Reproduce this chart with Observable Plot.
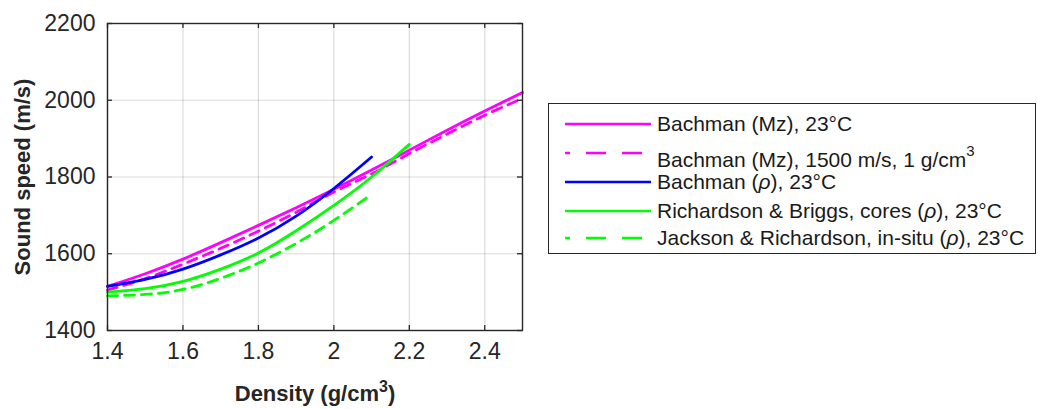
<!DOCTYPE html>
<html><head><meta charset="utf-8">
<script src="https://cdn.jsdelivr.net/npm/d3@7"></script>
<script src="https://cdn.jsdelivr.net/npm/@observablehq/plot@0.6"></script>
<style>
body{margin:0;background:#fff;font-family:"Liberation Sans",Arial,sans-serif;}
#wrap{position:relative;width:1038px;height:409px;overflow:hidden;}
#legend{position:absolute;left:548px;top:103px;width:488px;height:151px;border:1.3px solid #262626;box-sizing:border-box;background:#fff;}
.row{position:absolute;left:0;height:28px;width:480px;}
.row svg{position:absolute;left:15px;top:0;}
.row span{position:absolute;left:108px;top:2px;font-size:21px;color:#1a1a1a;white-space:nowrap;line-height:24px;}
.row sup{font-size:15px;position:relative;top:-3px;}
</style>
</head><body>
<div id="wrap"><div id="chart"></div><div id="legend"></div></div>
<script>
// ---- data ----
const xTicks = [1.4, 1.6, 1.8, 2.0, 2.2, 2.4];
const yTicks = [1400, 1600, 1800, 2000, 2200];
const densityLong = [1.4, 1.5, 1.6, 1.7, 1.8, 1.9, 2.0, 2.1, 2.2, 2.3, 2.4, 2.5];
const densityMid = [1.4, 1.5, 1.6, 1.7, 1.8, 1.9, 2.0, 2.1, 2.2];
const densityShort = [1.4, 1.5, 1.6, 1.7, 1.8, 1.9, 2.0, 2.1];
const bachmanMz = [1515, 1548, 1586, 1629, 1674, 1720, 1768, 1818, 1870, 1922, 1972, 2020];
const bachmanMz1500 = [1505, 1535, 1573, 1614, 1659, 1708, 1761, 1808, 1861, 1912, 1961, 2005];
const bachmanRho = [1515, 1533, 1560, 1597, 1641, 1698, 1770, 1852];
const richardsonBriggs = [1500, 1509, 1528, 1560, 1602, 1660, 1726, 1800, 1885];
const jacksonRichardson = [1490, 1494, 1507, 1536, 1576, 1627, 1687, 1755];
const seriesNames = [
  "Bachman (Mz), 23°C",
  "Bachman (Mz), 1500 m/s, 1 g/cm3",
  "Bachman (ρ), 23°C",
  "Richardson & Briggs, cores (ρ), 23°C",
  "Jackson & Richardson, in-situ (ρ), 23°C"
];
const legendHTML = [
  "Bachman (Mz), 23°C",
  "Bachman (Mz), 1500 m/s, 1 g/cm<sup>3</sup>",
  "Bachman (<i>ρ</i>), 23°C",
  "Richardson &amp; Briggs, cores (<i>ρ</i>), 23°C",
  "Jackson &amp; Richardson, in-situ (<i>ρ</i>), 23°C"
];
const seriesX = [densityLong, densityLong, densityShort, densityMid, densityShort];
const seriesY = [bachmanMz, bachmanMz1500, bachmanRho, richardsonBriggs, jacksonRichardson];
const colors = ["#ff00ff", "#ff00ff", "#0000ff", "#00ff00", "#00ff00"];
const dashes = [null, "10,7", null, null, "10,7"];

// ---- chart ----
const W = 1038, H = 409;
const mL = 107, mR = 516, mT = 23, mB = 79;
const pw = W - mL - mR, ph = H - mT - mB;
const ink = "#262626";

const lineMarks = seriesY.map((ys, i) => Plot.line(
  ys.map((v, j) => ({x: seriesX[i][j], y: v})),
  {x: "x", y: "y", stroke: colors[i], strokeWidth: 2.8, strokeDasharray: dashes[i], curve: "natural"}
));

const chart = Plot.plot({
  width: W, height: H,
  marginLeft: mL, marginRight: mR, marginTop: mT, marginBottom: mB,
  style: {fontFamily: "'Liberation Sans', Arial, sans-serif", fontSize: "23px", background: "#fff"},
  x: {domain: [1.4, 2.5]},
  y: {domain: [1400, 2200]},
  marks: [
    Plot.gridX(xTicks, {stroke: "#000", strokeOpacity: 0.14, strokeWidth: 1.2}),
    Plot.gridY(yTicks, {stroke: "#000", strokeOpacity: 0.14, strokeWidth: 1.2}),
    ...lineMarks,
    Plot.tickX(xTicks, {x: d => d, insetTop: ph - 5, stroke: ink, strokeWidth: 1.3}),
    Plot.tickX(xTicks, {x: d => d, insetBottom: ph - 5, stroke: ink, strokeWidth: 1.3}),
    Plot.tickY(yTicks, {y: d => d, insetRight: pw - 5, stroke: ink, strokeWidth: 1.3}),
    Plot.tickY(yTicks, {y: d => d, insetLeft: pw - 5, stroke: ink, strokeWidth: 1.3}),
    Plot.frame({stroke: ink, strokeWidth: 1.4}),
    Plot.axisX(xTicks, {tickSize: 0, tickPadding: 12, fontSize: 23, fill: ink, tickFormat: d3.format("~g"), label: null}),
    Plot.axisY(yTicks, {tickSize: 0, tickPadding: 12, fontSize: 23, fill: ink, tickFormat: d => String(d), label: null}),
    Plot.text(["Sound speed (m/s)"], {frameAnchor: "left", dx: -85, rotate: -90, textAnchor: "middle", lineAnchor: "middle", fontSize: 22, fontWeight: "bold", fill: ink}),
    Plot.text(["Density (g/cm3)"], {frameAnchor: "bottom", dy: 63, textAnchor: "middle", lineAnchor: "middle", fontSize: 22, fontWeight: "bold", fill: ink})
  ]
});
document.getElementById("chart").appendChild(chart);

// superscript in x label
d3.select(chart).selectAll("text").filter(function(){ return this.textContent === "Density (g/cm3)"; })
  .each(function(){
    const t = d3.select(this);
    t.text(null);
    t.append("tspan").text("Density (g/cm");
    t.append("tspan").attr("dy", -9).attr("font-size", 16).text("3");
    t.append("tspan").attr("dy", 9).text(")");
  });

// ---- legend ----
const rowTops = [6, 36, 64, 93, 120];
const lg = document.getElementById("legend");
seriesNames.forEach((name, i) => {
  const row = document.createElement("div");
  row.className = "row";
  row.style.top = rowTops[i] + "px";
  const dash = dashes[i] ? `stroke-dasharray="5,16,20,16,20,16,5"` : "";
  const ly = i === 1 ? 13 : 14;
  row.innerHTML = `<svg width="88" height="28"><line x1="1" x2="87" y1="${ly}" y2="${ly}" stroke="${colors[i]}" stroke-width="2.4" ${dash}/></svg><span title="${name}">${legendHTML[i]}</span>`;
  lg.appendChild(row);
});
</script>
</body></html>
